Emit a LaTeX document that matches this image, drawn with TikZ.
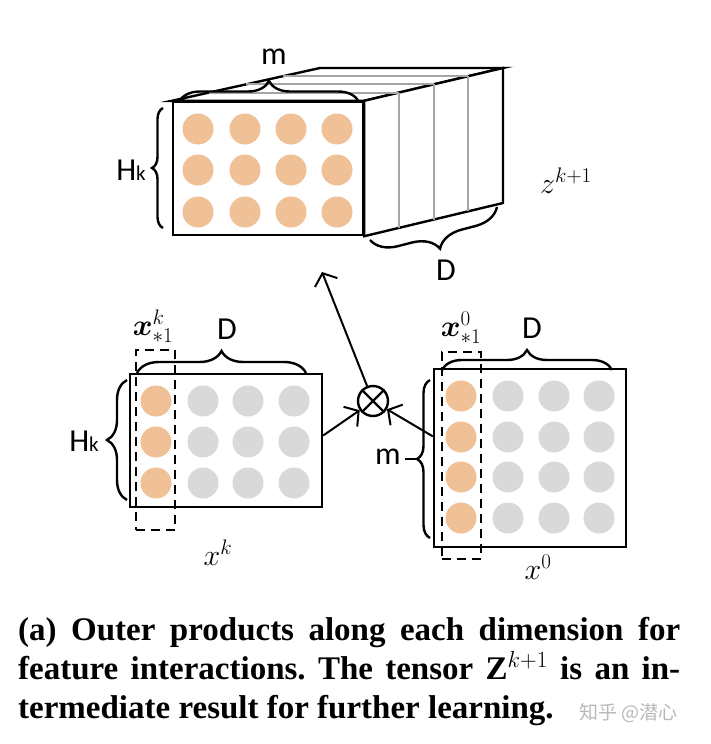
\RequirePackage{fix-cm}
\documentclass[tikz,border=0pt]{standalone}
\usepackage{amsmath,bm}
\usepackage{fontspec}
\setmainfont{Liberation Serif}
\setsansfont{Carlito}
\newfontfamily\cjkfont{Noto Sans CJK SC}
\usetikzlibrary{arrows.meta,positioning,calc,decorations.pathreplacing}
\definecolor{peach}{RGB}{240,192,150}
\definecolor{dotgray}{RGB}{217,217,217}
\definecolor{slicegray}{RGB}{165,165,165}
\tikzset{
  box/.style={draw, line width=2.4pt, fill=white, inner sep=0pt},
  dot/.style={circle, inner sep=0pt, minimum size=31pt},
  colsel/.style={draw, line width=2.4pt, dash pattern=on 9pt off 6pt, inner sep=0pt},
  brc/.style={decorate, decoration={brace, amplitude=#1}, line width=2.4pt},
  brc/.default=20pt,
  slice/.style={draw=slicegray, line width=2pt},
  lbl/.style={font=\sffamily\fontsize{32}{36}\selectfont, inner sep=0pt},
  mlbl/.style={font=\fontsize{30}{36}\selectfont, inner sep=0pt},
  flow/.style={-{Straight Barb[length=10pt, width=24pt]}, line width=2pt},
  capline/.style={font=\bfseries\fontsize{33}{39}\selectfont, anchor=base west, inner sep=0pt}
}
\newcommand{\Hk}{H{\fontsize{21}{21}\selectfont k}}

\begin{document}
\frenchspacing
\begin{tikzpicture}[x=1pt, y=-1pt]
  \useasboundingbox (0,0) rectangle (710,744);
  % tensor Z^{k+1}
  \node[box, minimum width=190pt, minimum height=133pt] (zf) at (268,168.5) {};
  \coordinate (bl) at (320,68);
  \coordinate (br) at (503,68);
  \coordinate (bb) at (503,203);
  \draw[box] (zf.north west) -- (bl) -- (br) -- (zf.north east) -- cycle;
  \draw[box] (zf.north east) -- (br) -- (bb) -- (zf.south east) -- cycle;
  \foreach \t in {0.25,0.5,0.75} {
    \draw[slice] ($(zf.north east)!\t!(br)$) -- ($(zf.south east)!\t!(bb)$);
    \draw[slice] ($(zf.north west)!\t!(bl)$) -- ($(zf.north east)!\t!(br)$);
  }
  \foreach \c [count=\i] in {198,245,291,337}
    \foreach \r [count=\j] in {129,170,212}
      \node[dot, fill=peach] (z\i\j) at (\c,\r) {};
  \draw[brc=21pt] (179,102) -- (359,102);
  \node[lbl] (zm) at (274,57) {m};
  \draw[brc=11pt] (163,228) -- (163,108);
  \node[lbl] (zh) at (131,170) {\Hk};
  \draw[brc=26pt] (497,207) -- (370,240);
  \node[lbl] (zd) at (446,270) {D};
  \node[mlbl] (zlbl) at (566,181) {$z^{k+1}$};

  % left matrix x^k
  \node[box, minimum width=192pt, minimum height=133pt] (xk) at (226,440.5) {};
  \foreach \c/\col [count=\i] in {156/peach,203/dotgray,248/dotgray,294/dotgray}
    \foreach \r [count=\j] in {401,442,483}
      \node[dot, fill=\col] (xk\i\j) at (\c,\r) {};
  \node[colsel, minimum width=39pt, minimum height=180pt] (xksel) at (155.5,440) {};
  \node[mlbl] (xkcol) at (153,326) {$\bm{x}^{k}_{*1}$};
  \draw[brc=22pt] (137,373) -- (306,373);
  \node[lbl] (xkd) at (227,329) {D};
  \draw[brc=20pt] (127,500) -- (127,380);
  \node[lbl] (xkh) at (84,441) {\Hk};
  \node[mlbl] (xklbl) at (218,553) {$x^{k}$};

  % right matrix x^0
  \node[box, minimum width=192pt, minimum height=178pt] (x0) at (530,458) {};
  \foreach \c/\col [count=\i] in {461/peach,508/dotgray,554/dotgray,599/dotgray}
    \foreach \r [count=\j] in {396,437,477,518}
      \node[dot, fill=\col] (x0\i\j) at (\c,\r) {};
  \node[colsel, minimum width=39pt, minimum height=207pt] (x0sel) at (461.5,455.5) {};
  \node[mlbl] (x0col) at (461,328) {$\bm{x}^{0}_{*1}$};
  \draw[brc=20pt] (442,370) -- (612,370);
  \node[lbl] (x0d) at (532,328) {D};
  \draw[brc=13pt] (430,538) -- (430,380);
  \draw[line width=2.4pt] (417,459) -- (405,459);
  \node[lbl] (x0m) at (388,457) {m};
  \node[mlbl] (x0lbl) at (538,567) {$x^{0}$};

  % outer product
  \node[circle, draw, line width=2.4pt, minimum size=30pt, inner sep=0pt] (ot) at (373,401) {};
  \draw[line width=2.4pt] (ot.north west) -- (ot.south east) (ot.north east) -- (ot.south west);
  \draw[flow] ([yshift=5pt]xk.east) -- (ot);
  \draw[flow] ($(x0.north west)!0.38!(x0.south west)$) -- (ot);
  \coordinate (zin) at (322,272);
  \draw[flow] (ot) -- (zin);

  % caption
  \node[capline] (cap1) at (18,640) {\makebox[662pt][s]{(a) Outer products along each dimension for}};
  \node[capline] (cap2) at (18,679) {\makebox[662pt][s]{feature interactions. The tensor Z$^{k+1}$ is an in-}};
  \node[capline] (cap3) at (18,718) {termediate result for further learning.};
  \node[anchor=base west, inner sep=0pt, font=\cjkfont\fontsize{19}{19}\selectfont, text=gray!55] (wm) at (579,719) {知乎 @潜心};
\end{tikzpicture}
\end{document}
